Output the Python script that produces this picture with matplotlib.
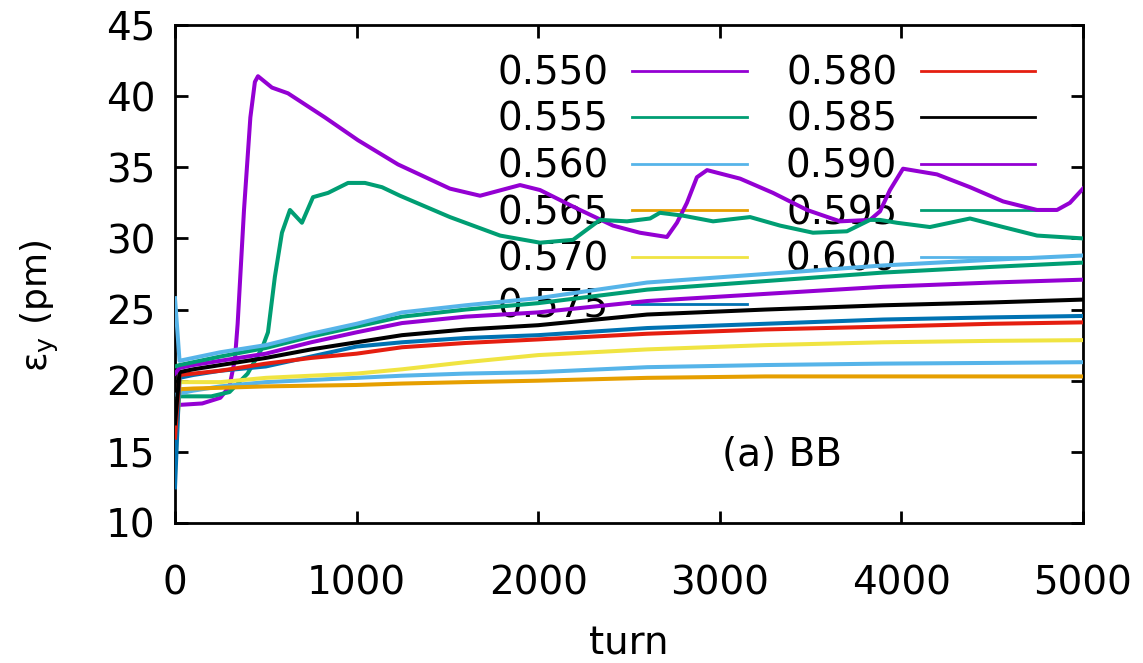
import numpy as np
import matplotlib.pyplot as plt

# vertical emittance vs turn for a scan of working points
tunes = ['0.550', '0.555', '0.560', '0.565', '0.570', '0.575',
         '0.580', '0.585', '0.590', '0.595', '0.600']
colors = ['#9400d3', '#009e73', '#56b4e9', '#e69f00', '#f0e442', '#0072b2',
          '#e51e10', '#000000', '#9400d3', '#009e73', '#56b4e9']

# the two unstable cases (0.550, 0.555)
turn_550 = [0, 25, 150, 250, 300, 330, 345, 380, 415, 440, 457, 534, 622, 826,
            1008, 1228, 1514, 1680, 1900, 2010, 2214, 2412, 2560, 2709, 2764,
            2819, 2874, 2930, 3112, 3293, 3480, 3662, 3827, 3882, 3937, 4009,
            4196, 4378, 4560, 4747, 4857, 4928, 5000]
emit_550 = [18.2, 18.3, 18.4, 18.8, 19.6, 21.5, 24.0, 32.0, 38.5, 41.0, 41.4,
            40.6, 40.2, 38.5, 36.9, 35.2, 33.5, 33.0, 33.75, 33.4, 32.1, 30.9,
            30.4, 30.1, 31.1, 32.5, 34.3, 34.8, 34.2, 33.2, 32.0, 31.2, 31.3,
            31.9, 33.4, 34.9, 34.5, 33.6, 32.6, 32.0, 32.0, 32.5, 33.5]

turn_555 = [0, 25, 200, 300, 400, 480, 512, 550, 589, 633, 699, 760, 843, 953,
            1046, 1140, 1239, 1514, 1790, 2010, 2192, 2340, 2489, 2616, 2670,
            2797, 2963, 3167, 3332, 3513, 3700, 3827, 3882, 3975, 4157, 4378,
            4560, 4747, 5000]
emit_555 = [18.6, 18.9, 18.9, 19.2, 20.5, 22.3, 23.4, 27.3, 30.4, 32.0, 31.1,
            32.9, 33.2, 33.9, 33.9, 33.6, 33.0, 31.5, 30.2, 29.7, 29.9, 31.3,
            31.2, 31.4, 31.8, 31.6, 31.2, 31.5, 30.9, 30.4, 30.5, 31.3, 31.3,
            31.1, 30.8, 31.4, 30.8, 30.2, 30.0]

# stable cases share one turn grid
turn_grid = [0, 25, 100, 250, 500, 750, 1000, 1250, 1600, 2000, 2600, 3250,
             3900, 4500, 5000]
emit_560 = [19.0, 19.1, 19.3, 19.6, 19.9, 20.05, 20.2, 20.35, 20.5, 20.6,
            20.95, 21.1, 21.2, 21.25, 21.3]
emit_565 = [15.0, 19.4, 19.45, 19.5, 19.6, 19.65, 19.7, 19.8, 19.9, 20.0,
            20.2, 20.3, 20.3, 20.3, 20.3]
emit_570 = [13.5, 19.9, 19.9, 19.9, 20.2, 20.35, 20.5, 20.8, 21.3, 21.8,
            22.2, 22.5, 22.7, 22.8, 22.85]
emit_575 = [12.5, 20.2, 20.4, 20.7, 21.0, 21.7, 22.4, 22.7, 23.0, 23.2,
            23.7, 24.0, 24.3, 24.45, 24.55]
emit_580 = [16.0, 20.4, 20.5, 20.7, 21.2, 21.6, 21.9, 22.35, 22.65, 22.9,
            23.3, 23.6, 23.8, 24.0, 24.1]
emit_585 = [17.0, 20.6, 20.8, 21.1, 21.6, 22.2, 22.7, 23.2, 23.6, 23.9,
            24.65, 25.0, 25.3, 25.5, 25.7]
emit_590 = [20.5, 20.9, 21.1, 21.4, 21.9, 22.7, 23.4, 24.05, 24.5, 24.8,
            25.6, 26.1, 26.6, 26.9, 27.1]
emit_595 = [21.0, 21.1, 21.3, 21.7, 22.3, 23.1, 23.8, 24.5, 25.0, 25.45,
            26.4, 27.0, 27.6, 28.0, 28.3]
emit_600 = [25.8, 21.4, 21.6, 22.0, 22.5, 23.3, 24.0, 24.8, 25.3, 25.8,
            26.9, 27.5, 28.1, 28.5, 28.8]

series = [(turn_550, emit_550), (turn_555, emit_555),
          (turn_grid, emit_560), (turn_grid, emit_565), (turn_grid, emit_570),
          (turn_grid, emit_575), (turn_grid, emit_580), (turn_grid, emit_585),
          (turn_grid, emit_590), (turn_grid, emit_595), (turn_grid, emit_600)]

plt.rcParams['font.family'] = 'DejaVu Sans'
fig = plt.figure(figsize=(11.43, 6.63), dpi=100)
ax = fig.add_axes([0.1531, 0.2112, 0.7944, 0.7511])

for (t, e), lab, c in zip(series, tunes, colors):
    ax.plot(t, e, color=c, lw=2.9, label=lab, zorder=3)

ax.set_xlim(0, 5000)
ax.set_ylim(10, 45)
ax.set_xticks(np.arange(0, 5001, 1000))
ax.set_yticks(np.arange(10, 46, 5))
ax.tick_params(direction='in', length=9, width=2, labelsize=28,
               top=True, right=True, pad=14)
ax.tick_params(axis='x', pad=30)
for s in ax.spines.values():
    s.set_linewidth(2)

ax.set_xlabel('turn', fontsize=28, labelpad=16)
ax.set_ylabel(r'ε$_\mathregular{y}$ (pm)', fontsize=26, va='center')
ax.yaxis.set_label_coords(-0.149, 0.436)

ax.text(3010, 14.8, '(a) BB', fontsize=28, va='center', ha='left')

leg = ax.legend(ncol=2, loc='upper right', bbox_to_anchor=(0.969, 0.98),
                frameon=False, fontsize=28, markerfirst=False,
                handlelength=2.95, handletextpad=0.6, columnspacing=1.0,
                labelspacing=0.22, borderpad=0)
for h in leg.get_lines():
    h.set_linewidth(2.0)
leg.set_zorder(1)

fig.savefig('out.png', dpi=100)
